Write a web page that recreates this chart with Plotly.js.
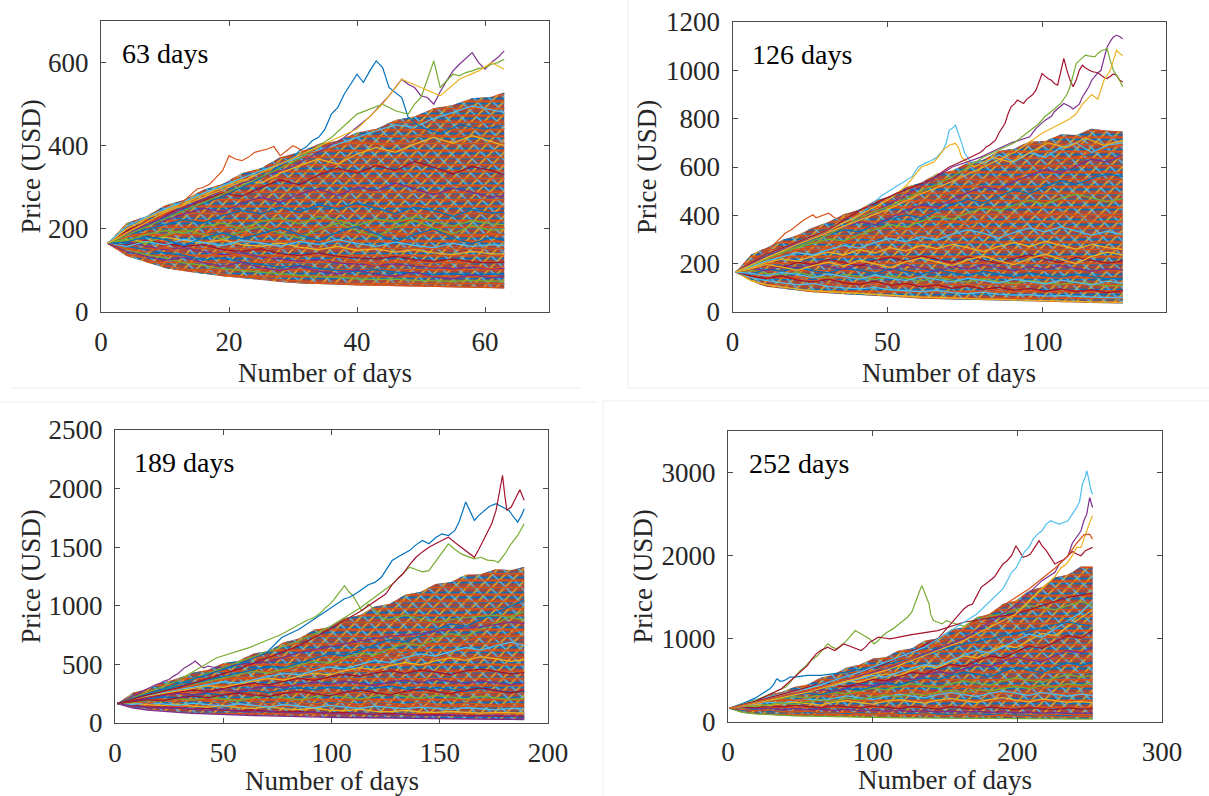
<!DOCTYPE html>
<html>
<head>
<meta charset="utf-8">
<script src="https://cdn.plot.ly/plotly-3.0.1.min.js"></script>
<style>html,body{margin:0;padding:0;background:#fff;}#chart{width:1209px;height:796px;}</style>
</head>
<body>
<div id="chart"></div>
<script>
// MATLAB default line colours
const lineColors = ['#0072BD','#D95319','#EDB120','#7E2F8E','#77AC30','#4DBEEE','#A2142F'];

// Panel labels and ticks
const panelLabels = ['63 days','126 days','189 days','252 days'];
const xTicks1 = [0,20,40,60];      const yTicks1 = [0,200,400,600];
const xTicks2 = [0,50,100];        const yTicks2 = [0,200,400,600,800,1000,1200];
const xTicks3 = [0,50,100,150,200];const yTicks3 = [0,500,1000,1500,2000,2500];
const xTicks4 = [0,100,200,300];   const yTicks4 = [0,1000,2000,3000];

// ---------- Panel 1 : 63 days ----------
const days1 = [1,4,7,10,13,16,19,22,25,28,31,34,37,40,43,46,49,52,55,58,61,63];
const bandUp1 = [165,214,230,256,270,294,308,334,346,372,384,404,412,432,440,462,470,490,498,514,518,528];
const bandLo1 = [165,135,120,106,98,92,86,82,77,72,69,67,65,64,63,62,61,60,59,58,57,57];
const paths1 = [
  [165,140,128,112,104,96,92,85,80,78,74,70,69,66,65,64,62,61,60,59,58,58],
  [165,150,138,130,118,112,104,100,95,92,88,85,84,80,78,79,76,75,74,76,74,75],
  [165,158,150,142,136,125,130,120,114,108,112,104,100,98,102,96,94,90,92,88,91,90],
  [165,170,158,150,155,145,138,142,132,128,122,126,118,115,112,116,110,108,104,108,103,105],
  [165,160,172,165,158,162,150,146,152,140,136,142,134,130,128,134,126,122,128,120,118,120],
  [165,175,168,180,172,166,174,162,158,166,156,150,158,148,152,144,150,142,138,146,140,140],
  [165,158,170,162,175,168,160,172,166,158,170,162,174,165,158,168,160,155,165,158,162,160],
  [165,180,190,182,196,188,200,192,182,198,190,204,194,186,200,192,184,196,188,180,190,185],
  [165,172,186,196,190,206,214,200,218,226,212,230,220,208,224,216,230,218,206,220,212,210],
  [165,185,198,210,222,214,232,244,236,252,240,258,248,262,250,236,252,244,230,246,238,240],
  [165,190,208,220,236,250,240,262,276,264,284,296,280,300,292,310,296,282,298,288,276,280],
  [165,195,216,234,252,268,286,278,300,318,306,330,346,334,352,340,362,348,332,350,340,330],
  [165,200,224,244,262,282,300,318,310,334,352,368,356,380,396,384,404,420,406,424,410,400],
  [165,206,228,248,266,286,304,322,340,356,372,390,404,420,436,450,444,466,480,496,486,480],
  [165,152,144,156,140,132,146,136,124,138,128,118,132,122,112,126,116,108,120,112,104,110],
  [165,176,164,184,198,186,176,194,206,190,178,198,214,196,182,204,220,202,188,208,196,200],
  [165,168,182,174,160,178,190,176,188,202,186,172,192,206,188,170,186,200,178,164,180,172],
  [165,146,134,124,132,118,110,120,106,100,110,98,92,102,90,86,96,84,80,90,82,86]
];
const outDays1 = [
  [1,4,7,10,13,16,19,22,25,28,29,30,31,32,33,34,35,36,37,38,39,40,41,42,43,44,45,46,47,48,49,50,53,56,60,63],
  [1,5,8,9,10,11,12,13,14,15,16,17,18,19,20,21,22,23,24,25,26,27,28,29,30,31,32,35,40,45,50,55,60,63],
  [1,10,20,30,38,42,45,46,47,48,49,50,51,52,53,54,55,56,57,58,59,60,61,62,63],
  [1,10,20,30,36,40,44,45,46,47,48,49,50,51,52,53,54,55,56,57,58,59,60,61,62,63],
  [1,10,20,30,40,44,47,50,53,56,59,61,63]
];
const outVals1 = [
  [165,190,206,226,246,262,278,300,322,352,364,372,388,396,412,420,440,476,492,524,548,572,552,580,604,588,540,528,516,468,456,444,430,450,440,450],
  [165,200,220,226,236,244,252,268,282,296,300,308,324,340,376,368,364,372,384,388,392,398,376,388,400,392,380,390,410,400,430,420,460,450],
  [165,230,300,350,420,470,520,540,560,548,540,520,516,500,530,556,580,596,610,624,600,584,600,612,628],
  [165,225,290,360,420,476,500,492,484,480,476,500,516,560,604,540,556,572,568,576,580,586,588,596,600,608],
  [165,240,300,370,440,500,560,540,520,560,580,600,584]
];
const outColors1 = ['#0072BD','#D95319','#7E2F8E','#77AC30','#EDB120'];

// ---------- Panel 2 : 126 days ----------
const days2 = [1,6,11,16,21,26,31,36,41,46,51,56,61,66,71,76,81,86,91,96,101,106,111,116,121,126];
const bandUp2 = [165,238,266,298,318,350,372,404,424,460,480,516,536,572,586,618,630,666,676,706,708,735,732,758,750,748];
const bandLo2 = [165,128,104,96,88,82,78,74,70,66,62,58,56,54,52,50,49,48,47,45,43,41,39,37,36,35];
const paths2 = [
  [165,130,112,102,95,88,84,80,76,72,68,64,62,60,57,55,53,52,50,48,46,45,43,42,41,40],
  [165,142,130,120,112,118,106,100,96,102,92,88,84,90,80,76,82,74,70,72,66,68,64,62,60,60],
  [165,150,160,142,136,128,140,124,118,126,112,106,116,104,98,108,96,92,100,90,86,94,88,84,88,85],
  [165,172,160,152,166,148,140,156,146,134,150,138,128,144,132,124,138,126,118,130,120,114,124,116,108,110],
  [165,158,176,168,184,170,162,180,172,160,178,166,156,174,162,150,168,158,146,162,150,144,156,146,138,140],
  [165,182,170,192,182,200,188,176,198,186,172,194,182,168,190,178,196,184,170,188,176,192,180,168,178,175],
  [165,176,194,184,206,196,218,204,190,214,226,210,232,218,204,228,214,200,222,236,218,204,226,214,202,210],
  [165,186,204,220,210,232,248,236,258,244,266,252,276,262,280,266,250,272,288,270,292,276,260,280,266,260],
  [165,190,212,228,246,236,258,276,264,288,304,290,312,298,322,340,326,306,330,348,332,352,336,318,334,320],
  [165,196,218,238,256,274,266,290,310,300,326,346,332,356,376,362,384,368,392,410,394,414,398,380,402,390],
  [165,200,224,248,266,284,302,294,320,342,362,350,376,398,384,410,430,418,442,462,446,470,488,472,456,470],
  [165,204,232,256,276,298,318,340,332,360,384,402,390,418,444,466,452,480,504,490,520,544,528,552,572,560],
  [165,210,240,262,284,306,330,352,374,362,392,420,444,432,466,494,518,506,540,566,590,576,604,632,620,650],
  [165,148,138,150,132,124,136,120,114,128,110,118,104,112,98,108,94,102,90,98,86,96,84,92,80,88],
  [165,178,196,186,172,192,206,190,214,198,184,208,224,206,192,216,232,212,196,222,240,218,200,230,248,236],
  [165,160,150,164,156,142,158,148,136,152,142,130,146,136,124,140,130,120,136,126,116,132,122,112,128,118]
];
const outDays2 = [
  [1,6,11,15,17,19,21,23,25,26,27,29,31,33,35,38,42,46,51,56,61,66,71,76,81,86,91,96,101,106,111,116,121,126],
  [1,11,21,31,41,48,53,58,60,62,64,66,68,69,70,71,72,73,74,75,77,82,86,91,96,101,106,111,116,121,126],
  [1,11,21,31,41,51,56,61,63,65,67,68,70,72,73,74,76,78,84,90,96,102,108,114,120,126],
  [1,11,21,31,41,53,64,70,75,80,81,82,83,84,85,86,87,88,89,90,91,92,93,94,95,96,97,98,99,100,101,102,103,104,105,106,107,108,109,110,111,112,113,114,116,118,120,121,122,123,124,125,126],
  [1,11,21,31,41,51,61,71,80,85,90,96,98,101,103,104,106,107,109,110,112,113,115,116,118,119,120,121,122,123,124,125,126],
  [1,11,21,31,41,51,61,71,81,91,99,101,103,105,106,108,109,110,111,112,114,115,117,118,119,120,121,122,123,124,125,126],
  [1,11,21,31,41,51,61,71,81,91,100,103,106,109,111,113,116,118,120,122,123,124,125,126]
];
const outVals2 = [
  [165,210,250,300,326,340,360,381,395,402,390,400,409,390,381,400,390,420,440,430,470,460,500,520,540,560,550,580,600,620,640,660,680,690],
  [165,240,290,340,400,480,520,560,600,615,625,640,670,698,753,760,773,739,700,657,620,620,650,620,660,640,680,700,660,690,700],
  [165,240,290,340,400,470,520,600,610,620,650,670,690,698,680,640,620,600,640,620,660,700,680,720,690,710],
  [165,240,290,340,420,491,546,600,629,660,670,684,690,700,712,740,760,780,820,850,860,877,870,863,880,890,900,918,950,987,975,965,959,945,939,1000,1049,1000,960,932,960,1000,1021,1010,995,990,970,966,975,985,980,960,952],
  [165,230,280,330,380,450,520,600,640,670,700,725,760,794,810,830,850,863,850,840,860,890,930,959,990,1000,1050,1097,1120,1138,1145,1140,1131],
  [165,220,270,320,390,440,500,560,640,700,780,810,830,850,863,900,932,980,1028,1040,1063,1060,1056,1070,1080,1085,1090,1040,1000,980,960,932],
  [165,225,280,330,380,430,490,540,600,660,740,760,780,800,820,860,900,880,960,1000,1040,1083,1070,1060]
];
const outColors2 = ['#D95319','#4DBEEE','#EDB120','#A2142F','#7E2F8E','#77AC30','#EDB120'];

// ---------- Panel 3 : 189 days ----------
const days3 = [1,8,15,22,29,36,43,50,57,64,71,78,85,92,99,106,113,120,127,134,141,148,155,162,169,176,183,189];
const bandUp3 = [165,255,292,345,380,428,455,510,532,592,615,690,720,795,818,895,920,995,1018,1095,1118,1185,1200,1265,1270,1315,1305,1330];
const bandLo3 = [165,130,112,100,92,84,78,74,70,66,62,58,55,52,50,48,46,44,42,40,38,36,35,34,33,32,31,30];
const paths3 = [
  [165,130,110,98,90,82,76,72,68,64,60,56,54,50,48,47,45,43,41,40,38,36,35,34,33,32,31,30],
  [165,150,136,140,126,118,124,110,104,112,98,94,100,88,84,90,80,76,82,72,70,74,66,64,60,62,57,55],
  [165,172,156,148,162,144,136,150,132,124,140,120,114,128,110,104,118,100,96,108,94,90,98,88,84,90,86,85],
  [165,158,176,166,150,170,156,144,164,150,136,158,142,130,150,136,124,144,130,120,136,124,114,130,118,112,124,120],
  [165,180,170,192,178,200,184,170,196,180,166,190,176,162,186,170,158,182,166,154,176,164,150,172,160,150,166,160],
  [165,176,196,184,208,196,220,206,190,216,232,214,198,224,240,220,204,230,246,226,210,236,222,206,228,214,200,210],
  [165,188,206,224,212,236,252,238,262,278,260,286,300,282,306,290,272,298,314,292,276,302,288,270,294,280,262,270],
  [165,192,214,234,252,240,266,284,270,298,316,300,330,348,328,356,338,320,350,366,344,372,354,334,360,344,326,340],
  [165,196,222,244,262,280,270,298,320,340,326,356,380,364,394,416,398,426,446,424,452,434,412,444,460,438,420,430],
  [165,202,230,254,274,296,316,304,334,358,380,366,400,426,410,446,472,454,490,516,496,530,556,534,566,548,526,540],
  [165,206,236,262,284,306,330,352,340,372,398,424,410,446,478,462,500,534,516,558,590,570,610,644,622,660,690,660],
  [165,210,242,270,296,320,344,370,396,384,418,448,476,462,502,538,520,566,606,586,634,674,652,700,740,716,770,800],
  [165,214,248,278,306,332,358,384,410,440,428,462,496,528,512,556,596,580,634,680,660,716,762,740,800,852,910,950],
  [165,214,250,282,310,338,366,394,424,454,484,470,510,550,590,574,620,666,712,694,744,796,846,824,880,940,1000,1050],
  [165,146,134,124,130,116,108,118,100,94,104,88,84,94,80,76,86,72,70,78,66,64,72,60,58,66,56,58],
  [165,184,200,190,214,230,216,240,256,240,226,252,270,250,232,262,282,260,240,270,290,268,248,280,300,276,256,280]
];
const outDays3 = [
  [1,8,15,17,19,21,23,25,27,29,31,32,34,35,36,37,38,39,40,41,43,45,48,57,71,85,99,113,127,141,155,169,183,189],
  [1,15,29,47,62,77,85,88,92,95,97,99,101,103,106,108,110,112,114,116,117,119,121,123,126,134,148,162,176,189],
  [1,29,57,85,99,113,126,129,132,136,139,142,145,148,151,154,157,160,163,166,169,172,175,177,180,183,186,189],
  [1,15,29,43,57,70,77,85,93,100,103,106,108,111,114,117,120,123,125,128,131,134,136,139,142,145,148,151,154,157,159,162,164,166,168,171,173,176,179,182,184,186,188,189],
  [1,15,29,43,57,71,85,99,113,125,128,131,133,136,139,142,145,148,151,154,157,160,163,166,168,171,174,176,178,179,180,181,183,185,187,189]
];
const outVals3 = [
  [165,230,290,310,329,340,360,371,400,420,450,470,490,500,515,529,510,500,480,471,486,478,470,500,520,600,650,700,740,760,800,820,860,850],
  [165,260,360,557,643,757,843,870,900,940,980,1010,1050,1100,1171,1120,1086,1020,957,990,1014,980,950,900,880,920,860,900,920,880],
  [165,330,520,700,820,980,1157,1200,1260,1329,1310,1290,1300,1380,1450,1529,1480,1443,1420,1400,1414,1390,1386,1370,1440,1529,1600,1700],
  [165,250,330,420,500,600,729,800,900,980,1020,1060,1071,1100,1140,1180,1200,1243,1300,1386,1420,1450,1471,1520,1557,1529,1580,1614,1600,1643,1720,1886,1800,1729,1770,1814,1850,1871,1840,1814,1760,1714,1780,1829],
  [165,240,300,380,460,560,660,800,950,1100,1180,1240,1271,1350,1414,1460,1500,1529,1560,1586,1540,1500,1460,1414,1480,1586,1700,1814,2000,2114,1950,1814,1843,1920,1991,1900]
];
const outColors3 = ['#7E2F8E','#77AC30','#77AC30','#0072BD','#A2142F'];

// ---------- Panel 4 : 252 days ----------
const days4 = [1,10,19,28,37,46,55,64,73,82,91,100,109,118,127,136,145,154,163,172,181,190,199,208,217,226,235,244,252];
const bandUp4 = [165,225,265,328,362,420,452,532,570,655,690,760,780,860,885,980,1005,1110,1140,1260,1300,1420,1460,1580,1620,1740,1770,1870,1870];
const bandLo4 = [165,110,95,85,78,72,68,64,60,58,56,54,52,50,48,47,46,45,44,43,42,41,40,39,38,37,36,35,35];
const paths4 = [
  [165,115,98,88,80,74,70,66,62,60,58,55,53,51,49,48,47,46,45,44,43,42,41,40,39,38,37,36,35],
  [165,140,150,128,134,118,124,110,116,104,110,98,104,94,100,90,96,86,92,82,88,78,84,76,80,72,76,68,70],
  [165,178,160,170,150,164,146,156,138,152,134,146,128,140,124,136,120,132,118,128,114,124,110,120,106,116,104,112,110],
  [165,186,172,196,180,204,186,170,198,182,166,194,176,160,188,172,156,184,168,152,178,164,150,174,160,148,170,156,160],
  [165,190,210,196,222,240,220,204,236,256,232,214,248,270,244,226,262,284,256,236,272,294,264,242,278,256,236,248,230],
  [165,196,220,240,226,256,278,258,290,314,292,270,306,334,310,290,328,356,330,306,344,374,346,320,356,336,310,336,320],
  [165,200,228,252,272,258,292,318,300,336,362,340,318,358,390,366,344,388,420,394,370,412,446,418,392,434,460,436,430],
  [165,206,236,262,286,306,290,328,356,338,378,408,386,430,462,436,412,460,496,468,442,494,532,504,476,530,572,540,560],
  [165,210,242,272,298,322,346,330,368,400,384,428,464,442,492,530,506,560,600,572,546,610,656,624,594,660,710,680,720],
  [165,214,250,282,310,336,362,390,372,414,450,436,484,524,506,560,604,584,640,690,664,728,780,752,720,800,860,830,900],
  [165,218,256,290,320,348,378,408,440,424,470,512,496,548,596,578,640,692,668,736,796,770,846,912,886,964,1040,1010,1100],
  [165,222,262,298,330,362,394,428,460,494,480,530,578,560,620,676,656,730,796,772,850,920,896,984,1064,1040,1150,1250,1350],
  [165,224,266,304,340,374,410,446,430,484,520,560,540,600,644,690,670,740,800,860,830,900,980,1060,1020,1120,1220,1320,1450],
  [165,150,136,146,126,120,132,112,106,118,100,96,108,90,86,98,82,80,90,76,74,84,70,68,76,64,62,70,66],
  [165,196,184,210,230,212,246,268,250,286,270,300,326,302,340,320,356,380,354,392,370,404,430,402,446,420,460,440,470]
];
const outDays4 = [
  [1,10,19,22,25,27,29,30,31,32,33,34,35,36,38,39,41,43,46,50,55,64,82,100,127,154,181,208,235,252],
  [1,19,40,45,50,53,56,59,62,66,69,72,75,78,81,84,87,88,90,92,95,98,101,104,107,110,114,118,121,124,127,129,131,133,134,135,136,137,138,139,140,142,145,148,151,154,163,172,190,208,226,244,252],
  [1,19,37,50,55,58,61,64,67,69,71,74,77,80,83,86,89,92,95,98,101,104,108,112,127,145,163,181,199,217,235,252],
  [1,37,73,109,145,160,163,166,169,172,175,178,181,184,187,190,193,196,199,201,204,207,209,212,215,217,220,223,226,229,232,235,238,241,244,247,250,252],
  [1,46,91,136,172,190,193,196,199,202,205,208,211,214,217,220,223,226,229,232,235,238,241,243,245,247,248,249,250,251,252],
  [1,55,109,163,199,217,226,229,232,235,238,240,242,244,246,248,250,251,252],
  [1,55,109,163,199,217,226,230,234,238,241,244,247,250,252],
  [1,64,127,181,208,226,235,241,246,250,252]
];
const outVals4 = [
  [165,220,290,320,350,380,400,420,440,460,500,520,505,490,495,500,520,540,540,550,560,560,600,660,760,900,1000,1100,1200,1150],
  [165,260,420,520,620,660,720,760,800,880,940,900,880,920,960,1020,1080,1100,1080,1060,1040,1000,940,980,1040,1080,1120,1180,1220,1260,1320,1420,1500,1600,1640,1600,1540,1520,1460,1420,1300,1220,1200,1180,1220,1200,1150,1250,1300,1400,1350,1450,1400],
  [165,250,400,600,680,760,820,860,880,900,880,860,900,940,920,900,880,860,900,960,990,1020,1010,1000,1050,1100,1200,1250,1300,1400,1500,1550],
  [165,330,500,700,1000,1300,1360,1400,1420,1520,1620,1660,1700,1740,1820,1900,1940,2000,2120,2060,1980,2000,2020,2100,2180,2120,2060,1980,1900,1930,1950,2000,2050,2020,2000,2060,2080,2100],
  [165,350,600,900,1300,1600,1700,1800,1850,1950,2050,2100,2200,2260,2300,2380,2420,2400,2380,2400,2420,2500,2580,2650,2860,2950,3020,2950,2850,2780,2740],
  [165,380,640,1000,1400,1700,1800,1900,1950,2000,2150,2200,2250,2300,2420,2500,2700,2650,2580],
  [165,360,620,980,1300,1600,1750,1850,1900,2000,2100,2100,2260,2400,2480],
  [165,420,760,1300,1600,1850,2000,2150,2250,2260,2200]
];
const outColors4 = ['#0072BD','#77AC30','#A2142F','#A2142F','#4DBEEE','#7E2F8E','#EDB120','#D95319'];

// ---------- build ----------
const bandBase = '#A8473A';
const bandLayers = [
  {shape: '', fg: bandBase, bg: bandBase, size: 8, solidity: 0.3},
  {shape: '-', fg: '#0072BD', bg: 'rgba(0,0,0,0)', size: 5, solidity: 0.35},
  {shape: '/', fg: '#EDB120', bg: 'rgba(0,0,0,0)', size: 9, solidity: 0.16},
  {shape: '\\', fg: '#4DBEEE', bg: 'rgba(0,0,0,0)', size: 11, solidity: 0.13},
  {shape: '-', fg: '#D95319', bg: 'rgba(0,0,0,0)', size: 7, solidity: 0.25}
];
const traces = [];
function addPanel(n, days, up, lo, paths, oDays, oVals, oColors) {
  const xa = n === 1 ? 'x' : 'x' + n, ya = n === 1 ? 'y' : 'y' + n;
  bandLayers.forEach((L) => {
    traces.push({x: days, y: lo, xaxis: xa, yaxis: ya, mode: 'lines', line: {width: 0}, hoverinfo: 'skip', showlegend: false});
    const t = {x: days, y: up, xaxis: xa, yaxis: ya, mode: 'lines', fill: 'tonexty', line: {width: 0}, hoverinfo: 'skip', showlegend: false};
    if (L.shape === '') { t.fillcolor = L.bg; }
    else { t.fillcolor = 'rgba(0,0,0,0)'; t.fillpattern = {shape: L.shape, fgcolor: L.fg, bgcolor: L.bg, size: L.size, solidity: L.solidity}; }
    traces.push(t);
  });
  paths.forEach((p, i) => traces.push({x: days, y: p, xaxis: xa, yaxis: ya, mode: 'lines',
    line: {width: 1.3, color: lineColors[(i * 3 + n) % lineColors.length]}, showlegend: false}));
  oDays.forEach((d, i) => traces.push({x: d, y: oVals[i], xaxis: xa, yaxis: ya, mode: 'lines',
    line: {width: 1.2, color: oColors[i]}, showlegend: false}));
}
addPanel(1, days1, bandUp1, bandLo1, paths1, outDays1, outVals1, outColors1);
addPanel(2, days2, bandUp2, bandLo2, paths2, outDays2, outVals2, outColors2);
addPanel(3, days3, bandUp3, bandLo3, paths3, outDays3, outVals3, outColors3);
addPanel(4, days4, bandUp4, bandLo4, paths4, outDays4, outVals4, outColors4);

const W = 1209, H = 796;
const FONT = '"Liberation Serif", "Times New Roman", serif';
const axColor = '#4a4a4a';
function px(x) { return x / W; }
function py(y) { return 1 - y / H; }
function axisBase(ticks, range, anchor) {
  return {range: range, tickvals: ticks, ticktext: ticks.map(String), anchor: anchor,
    showline: true, mirror: 'ticks', linecolor: axColor, linewidth: 1, ticks: 'inside', ticklen: 5, tickcolor: axColor,
    showgrid: false, zeroline: false, ticklabelstandoff: 6,
    tickfont: {family: FONT, size: 27, color: '#262626'}, fixedrange: true};
}
function xAxis(x0, x1, range, ticks, anchor) { const a = axisBase(ticks, range, anchor); a.domain = [px(x0), px(x1)]; return a; }
function yAxis(y0, y1, range, ticks, anchor) { const a = axisBase(ticks, range, anchor); a.domain = [py(y1), py(y0)]; return a; }
const boxes = [
  {x0: 101, x1: 549, y0: 21, y1: 312},
  {x0: 732.5, x1: 1166, y0: 22, y1: 312},
  {x0: 115, x1: 548, y0: 430, y1: 723},
  {x0: 728, x1: 1162, y0: 431, y1: 722}
];
const sep = '#ededed';
const layout = {
  width: W, height: H, autosize: false,
  margin: {l: 0, r: 0, t: 0, b: 0, pad: 0},
  paper_bgcolor: '#fff', plot_bgcolor: '#fff', showlegend: false,
  xaxis:  xAxis(boxes[0].x0, boxes[0].x1, [0, 70], xTicks1, 'y'),
  yaxis:  yAxis(boxes[0].y0, boxes[0].y1, [0, 700], yTicks1, 'x'),
  xaxis2: xAxis(boxes[1].x0, boxes[1].x1, [0, 140], xTicks2, 'y2'),
  yaxis2: yAxis(boxes[1].y0, boxes[1].y1, [0, 1200], yTicks2, 'x2'),
  xaxis3: xAxis(boxes[2].x0, boxes[2].x1, [0, 200], xTicks3, 'y3'),
  yaxis3: yAxis(boxes[2].y0, boxes[2].y1, [0, 2500], yTicks3, 'x3'),
  xaxis4: xAxis(boxes[3].x0, boxes[3].x1, [0, 300], xTicks4, 'y4'),
  yaxis4: yAxis(boxes[3].y0, boxes[3].y1, [0, 3500], yTicks4, 'x4'),
  annotations: [],
  shapes: [
    {type: 'line', xref: 'paper', yref: 'paper', x0: px(10), x1: px(580), y0: py(388), y1: py(388), line: {color: sep, width: 1}},
    {type: 'line', xref: 'paper', yref: 'paper', x0: px(628), x1: px(628), y0: py(0), y1: py(388), line: {color: sep, width: 1}},
    {type: 'line', xref: 'paper', yref: 'paper', x0: px(628), x1: px(1209), y0: py(388), y1: py(388), line: {color: sep, width: 1}},
    {type: 'line', xref: 'paper', yref: 'paper', x0: px(0), x1: px(598), y0: py(402), y1: py(402), line: {color: sep, width: 1}},
    {type: 'line', xref: 'paper', yref: 'paper', x0: px(603), x1: px(603), y0: py(401), y1: py(796), line: {color: sep, width: 1}},
    {type: 'line', xref: 'paper', yref: 'paper', x0: px(603), x1: px(1209), y0: py(401), y1: py(401), line: {color: sep, width: 1}}
  ]
};
// Axis titles and panel labels
const yTitleX = [30, 647, 30, 642];
const labelLeft = [120, 750, 132, 747];
const xTitleOff = [61, 61, 58, 58];
boxes.forEach((b, i) => {
  layout.annotations.push({xref: 'paper', yref: 'paper', x: px((b.x0 + b.x1) / 2), y: py(b.y1 + xTitleOff[i]), text: 'Number of days',
    showarrow: false, xanchor: 'center', yanchor: 'middle', font: {family: FONT, size: 27, color: '#262626'}});
  layout.annotations.push({xref: 'paper', yref: 'paper', x: px(yTitleX[i]), y: py((b.y0 + b.y1) / 2), text: 'Price (USD)', textangle: -90,
    showarrow: false, xanchor: 'center', yanchor: 'middle', font: {family: FONT, size: 27, color: '#262626'}});
  layout.annotations.push({xref: 'paper', yref: 'paper', x: px(labelLeft[i]), y: py(b.y0 + 32), text: panelLabels[i],
    showarrow: false, xanchor: 'left', yanchor: 'middle', font: {family: FONT, size: 28, color: '#000'}});
});
Plotly.newPlot('chart', traces, layout, {staticPlot: true, displayModeBar: false});
</script>
</body>
</html>
